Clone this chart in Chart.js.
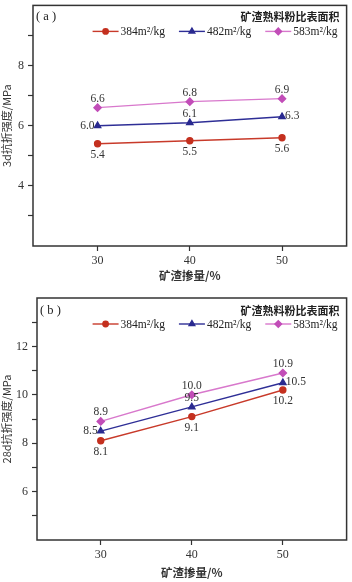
<!DOCTYPE html>
<html>
<head>
<meta charset="utf-8">
<script src="https://cdn.jsdelivr.net/npm/chart.js@4.4.1/dist/chart.umd.min.js"></script>
<style>
  body { margin: 0; background: #fff; }
  canvas { display: block; }
</style>
</head>
<body>
<canvas id="chartA" width="352" height="287"></canvas>
<canvas id="chartB" width="352" height="295"></canvas>
<script>
// slag content (x axis) and the three specific surface areas
var slagContent = [30, 40, 50];
var surfaceAreas = ['384m²/kg', '482m²/kg', '583m²/kg'];

// 3d flexural strength, MPa
var flex3d_384 = [5.4, 5.5, 5.6];
var flex3d_482 = [6.0, 6.1, 6.3];
var flex3d_583 = [6.6, 6.8, 6.9];

// 28d flexural strength, MPa
var flex28d_384 = [8.1, 9.1, 10.2];
var flex28d_482 = [8.5, 9.5, 10.5];
var flex28d_583 = [8.9, 10.0, 10.9];

var xTicks = [30, 40, 50];
var yTicksA = [3, 4, 5, 6, 7, 8, 9];
var yTicksB = [5, 6, 7, 8, 9, 10, 11, 12, 13];

var legendTitle = '矿渣熟料粉比表面积';
var xTitle = '矿渣掺量/%';

var lineColors = ['#c83a2a', '#2e2e96', '#d878cc'];
var pointColors = ['#c4301f', '#2a2a90', '#c24db8'];
var pointStyles = ['circle', 'triangle', 'rectRot'];
var pointSizes = [3, 3.6, 3.6];

var serif = '"Liberation Serif", "Noto Sans CJK SC", serif';
var cjk = '"Noto Sans CJK SC", "Liberation Serif", serif';

// where each value label sits relative to its point
var labelPos = [
    ['below', 'below', 'below'],
    ['left', 'above', 'right'],
    ['above', 'above', 'above']
];

function makeDatasets(series)
{
    return series.map(function(values, i){
        return {
            label: surfaceAreas[i],
            data: slagContent.map(function(x, j){ return {x: x, y: values[j]}; }),
            borderColor: lineColors[i],
            backgroundColor: pointColors[i],
            pointBackgroundColor: pointColors[i],
            pointBorderColor: pointColors[i],
            pointStyle: pointStyles[i],
            pointRadius: pointSizes[i],
            borderWidth: 1.4,
            tension: 0
        };
    });
}

var framePlugin = {
    id: 'frame',
    afterDraw: function(chart){
        var a = chart.chartArea, ctx = chart.ctx;
        ctx.save();
        ctx.strokeStyle = '#333';
        ctx.lineWidth = 1.5;
        ctx.strokeRect(a.left, a.top, a.right - a.left, a.bottom - a.top);
        ctx.restore();
    }
};

var valueLabels = {
    id: 'valueLabels',
    afterDatasetsDraw: function(chart){
        var ctx = chart.ctx;
        ctx.save();
        ctx.font = '11.5px ' + serif;
        ctx.fillStyle = '#333';
        chart.data.datasets.forEach(function(ds, i){
            var meta = chart.getDatasetMeta(i);
            meta.data.forEach(function(pt, j){
                var txt = ds.data[j].y.toFixed(1);
                var pos = labelPos[i][j];
                var x = pt.x, y = pt.y;
                ctx.textAlign = 'center';
                ctx.textBaseline = 'middle';
                if (pos == 'above') { y -= 9; }
                else if (pos == 'below') { y += 11; }
                else if (pos == 'left') { ctx.textAlign = 'right'; x -= 3; }
                else if (pos == 'right') { ctx.textAlign = 'left'; x += 3; y -= 1; }
                ctx.fillText(txt, x, y);
            });
        });
        ctx.restore();
    }
};

var legendPlugin = {
    id: 'customLegend',
    afterDraw: function(chart){
        var a = chart.chartArea, ctx = chart.ctx;
        var opts = chart.options.plugins.customLegend;
        ctx.save();
        ctx.fillStyle = '#222';
        ctx.textBaseline = 'middle';
        ctx.font = '12.5px ' + serif;
        ctx.textAlign = 'left';
        ctx.fillText(opts.tag, a.left + 3, a.top + opts.titleOffset);
        ctx.font = 'bold 11px ' + cjk;
        ctx.textAlign = 'right';
        ctx.fillText(legendTitle, a.right - 7, a.top + opts.titleOffset);

        ctx.font = '11.5px ' + serif;
        var lineLen = 26, gap = 14;
        var widths = surfaceAreas.map(function(s){ return ctx.measureText(s).width; });
        var total = 0;
        widths.forEach(function(w){ total += lineLen + 2 + w; });
        total += gap * (widths.length - 1);
        var x = a.right - 9 - total;
        var y = a.top + opts.rowOffset;
        ctx.textAlign = 'left';
        surfaceAreas.forEach(function(s, i){
            ctx.strokeStyle = lineColors[i];
            ctx.lineWidth = 1.4;
            ctx.beginPath();
            ctx.moveTo(x, y);
            ctx.lineTo(x + lineLen, y);
            ctx.stroke();
            ctx.fillStyle = pointColors[i];
            ctx.strokeStyle = pointColors[i];
            Chart.helpers.drawPoint(ctx, {pointStyle: pointStyles[i], radius: pointSizes[i] - 0.3, rotation: 0, borderWidth: 1}, x + lineLen / 2, y);
            ctx.fillStyle = '#222';
            ctx.fillText(s, x + lineLen + 2, y + 1);
            x += lineLen + 2 + widths[i] + gap;
        });
        ctx.restore();
    }
};

function makeChart(id, series, yMin, yMax, yTicks, yTitle, leftWidth, topPad, bottomHeight, tag, titleOffset, rowOffset, xTitlePad)
{
    var ctx = document.getElementById(id).getContext('2d');
    return new Chart(ctx, {
        type: 'line',
        data: { datasets: makeDatasets(series) },
        options: {
            responsive: false,
            animation: false,
            layout: { padding: { top: topPad, right: 2, left: 0, bottom: 0 } },
            plugins: {
                legend: { display: false },
                tooltip: { enabled: false },
                customLegend: { tag: tag, titleOffset: titleOffset, rowOffset: rowOffset }
            },
            scales: {
                x: {
                    type: 'linear',
                    min: 23, max: 57,
                    afterBuildTicks: function(s){ s.ticks = xTicks.map(function(v){ return {value: v}; }); },
                    afterFit: function(s){ s.height = bottomHeight; s.paddingLeft = 0; s.paddingRight = 0; },
                    ticks: { color: '#333', font: { family: serif, size: 12 }, padding: 3, maxRotation: 0 },
                    grid: { drawOnChartArea: false, drawTicks: true, tickLength: 5, color: '#333', tickWidth: 1.2 },
                    border: { display: false },
                    title: { display: true, text: xTitle, color: '#333', font: { family: cjk, size: 11.5, weight: 'bold' }, padding: { top: 0, bottom: xTitlePad } }
                },
                y: {
                    type: 'linear',
                    min: yMin, max: yMax,
                    afterBuildTicks: function(s){ s.ticks = yTicks.map(function(v){ return {value: v}; }); },
                    afterFit: function(s){ s.width = leftWidth; s.paddingTop = 0; s.paddingBottom = 0; },
                    ticks: {
                        color: '#333', font: { family: serif, size: 12 }, padding: 4,
                        callback: function(v){ return v % 2 === 0 ? v : ''; }
                    },
                    grid: { drawOnChartArea: false, drawTicks: true, tickLength: 5, color: '#333', tickWidth: 1.2 },
                    border: { display: false },
                    title: { display: true, text: yTitle, color: '#333', font: { family: cjk, size: 11 }, padding: { top: 0, bottom: 0 } }
                }
            }
        },
        plugins: [framePlugin, valueLabels, legendPlugin]
    });
}

makeChart('chartA', [flex3d_384, flex3d_482, flex3d_583], 2, 10, yTicksA, '3d抗折强度/MPa',
          33, 2, 41, '( a )', 11, 26, 4);
makeChart('chartB', [flex28d_384, flex28d_482, flex28d_583], 4, 14, yTicksB, '28d抗折强度/MPa',
          37, 11, 42, '( b )', 13, 26, 2);
</script>
</body>
</html>
